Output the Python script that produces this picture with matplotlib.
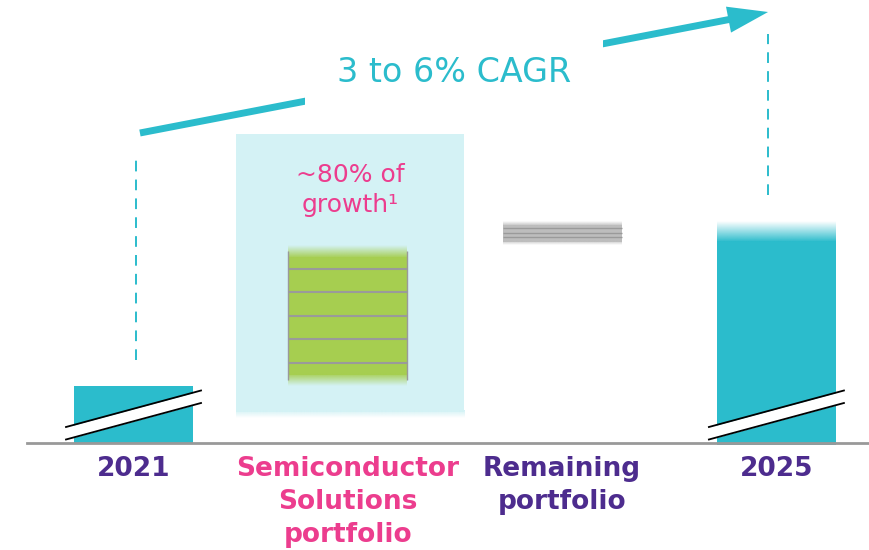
import numpy as np
import matplotlib.pyplot as plt
from matplotlib.colors import to_rgb

# Dados do gráfico (waterfall 2021 -> 2025)
categories = ["2021", "Semiconductor\nSolutions\nportfolio", "Remaining\nportfolio", "2025"]
base_2021 = 5.7                      # barra de 2021 (eixo quebrado)
semi_segments = [2.35] * 6           # crescimento Semiconductor Solutions
remaining_growth = 2.35              # crescimento do restante do portfólio
cagr_text = "3 to 6% CAGR"
share_text = "~80% of\ngrowth\u00b9"

CYAN = "#2bbccc"
LIGHT = "#d4f2f5"
GREEN = "#a6ce50"
GRAY = "#bdbdbd"
PURPLE = "#4d2c8e"
PINK = "#ec3d8e"
label_colors = [PURPLE, PINK, PURPLE, PURPLE]

W = 0.555  # largura das barras


def fade(ax, x, y0, y1, width, color, upward, zorder):
    # gradiente de transparência (de cor sólida para branco)
    n = 64
    rgba = np.zeros((n, 1, 4))
    rgba[:, 0, :3] = to_rgb(color)
    ramp = np.linspace(1, 0, n) if upward else np.linspace(0, 1, n)
    rgba[:, 0, 3] = ramp
    ax.imshow(rgba, extent=[x - width / 2, x + width / 2, y0, y1], origin="lower",
              aspect="auto", interpolation="bilinear", zorder=zorder)


def faded_bar(ax, x, y0, y1, width, color, fade_top=0.0, fade_bot=0.0, zorder=2):
    ov = 0.15  # sobreposição para evitar costura entre barra e gradiente
    ax.bar(x, (y1 - fade_top + ov) - (y0 + fade_bot - ov), bottom=y0 + fade_bot - ov,
           width=width, color=color, lw=0, zorder=zorder)
    if fade_top:
        fade(ax, x, y1 - fade_top, y1, width, color, True, zorder + 0.1)
    if fade_bot:
        fade(ax, x, y0, y0 + fade_bot, width, color, False, zorder + 0.1)


def break_marks(ax, x):
    xs = np.array([x - 0.315, x + 0.315])
    low = np.array([0.35, 4.0])
    high = low + 1.25
    ax.fill_between(xs, low, high, color="white", lw=0, zorder=4)
    ax.plot(xs, low, color="black", lw=1.3, zorder=5)
    ax.plot(xs, high, color="black", lw=1.3, zorder=5)


fig = plt.figure(figsize=(8.69, 5.5), dpi=100)
ax = fig.add_axes([0, 0, 1, 1])
ax.axis("off")

x = np.arange(len(categories))
semi_bottom = base_2021
semi_top = base_2021 + sum(semi_segments)
total_2025 = semi_top + remaining_growth

# caixa azul clara atrás do crescimento de Semiconductor
faded_bar(ax, x[1] + 0.01, 2.5, semi_top + 11.0, 1.064, LIGHT, fade_bot=0.8, zorder=1)

# 2021
ax.bar(x[0], base_2021, width=W, color=CYAN, lw=0, zorder=3)
break_marks(ax, x[0])

# Semiconductor Solutions (segmentos empilhados)
faded_bar(ax, x[1], semi_bottom, semi_top, W, GREEN, fade_top=1.3, fade_bot=1.3, zorder=3)
edges = np.cumsum(semi_segments)[:-1] + semi_bottom
ax.hlines(edges, x[1] - W / 2, x[1] + W / 2, color="#9a9a9a", lw=1.5, zorder=4)
ax.vlines([x[1] - W / 2, x[1] + W / 2], semi_bottom + 0.6, semi_top - 0.6,
          color="#9a9a9a", lw=1.0, zorder=4)

# Restante do portfólio
faded_bar(ax, x[2], semi_top, total_2025, W, GRAY, fade_top=0.5, fade_bot=0.5, zorder=3)
ax.hlines(semi_top + remaining_growth * np.array([0.35, 0.5, 0.72]),
          x[2] - W / 2, x[2] + W / 2, color="#9a9a9a", lw=1.0, zorder=4)

# 2025
faded_bar(ax, x[3], 0, total_2025, W, CYAN, fade_top=2.1, zorder=3)
break_marks(ax, x[3])

# linha de base
ax.axhline(0, xmin=0.031, xmax=1, color="#999999", lw=2, zorder=6)

# linhas tracejadas e seta de CAGR
arrow_start = (x[0] + 0.03, 31.0)
arrow_end = (x[3] - 0.039, 43.1)
ax.plot([x[0] + 0.01, x[0] + 0.01], [base_2021 + 2.6, arrow_start[1] - 2.2],
        color=CYAN, lw=1.4, ls=(0, (5.5, 4.2)), zorder=2)
ax.plot([arrow_end[0], arrow_end[0]], [total_2025 + 2.6, arrow_end[1] - 2.2],
        color=CYAN, lw=1.4, ls=(0, (5.5, 4.2)), zorder=2)
ax.annotate("", xy=arrow_end, xytext=arrow_start,
            arrowprops=dict(arrowstyle="simple,head_length=29,head_width=19,tail_width=5",
                            mutation_scale=1, color=CYAN, lw=0, shrinkA=0, shrinkB=0),
            zorder=5)
ax.text((arrow_start[0] + arrow_end[0]) / 2, (arrow_start[1] + arrow_end[1]) / 2, cagr_text,
        ha="center", va="center", fontsize=24, color=CYAN, zorder=7,
        bbox=dict(boxstyle="square,pad=0.95", fc="white", ec="none"))

# texto dentro da caixa azul
ax.text(x[1] + 0.01, 28.0, share_text, ha="center", va="top", fontsize=18,
        color=PINK, linespacing=1.3, zorder=7)

# rótulos das categorias
for xi, lab, c in zip(x, categories, label_colors):
    ax.text(xi, -1.25, lab, ha="center", va="top", fontsize=19, fontweight="bold",
            color=c, linespacing=1.36)

ax.set_xlim(-0.623, 3.432)
ax.set_ylim(-10.7, 44.3)

fig.savefig("out.png", dpi=100)
